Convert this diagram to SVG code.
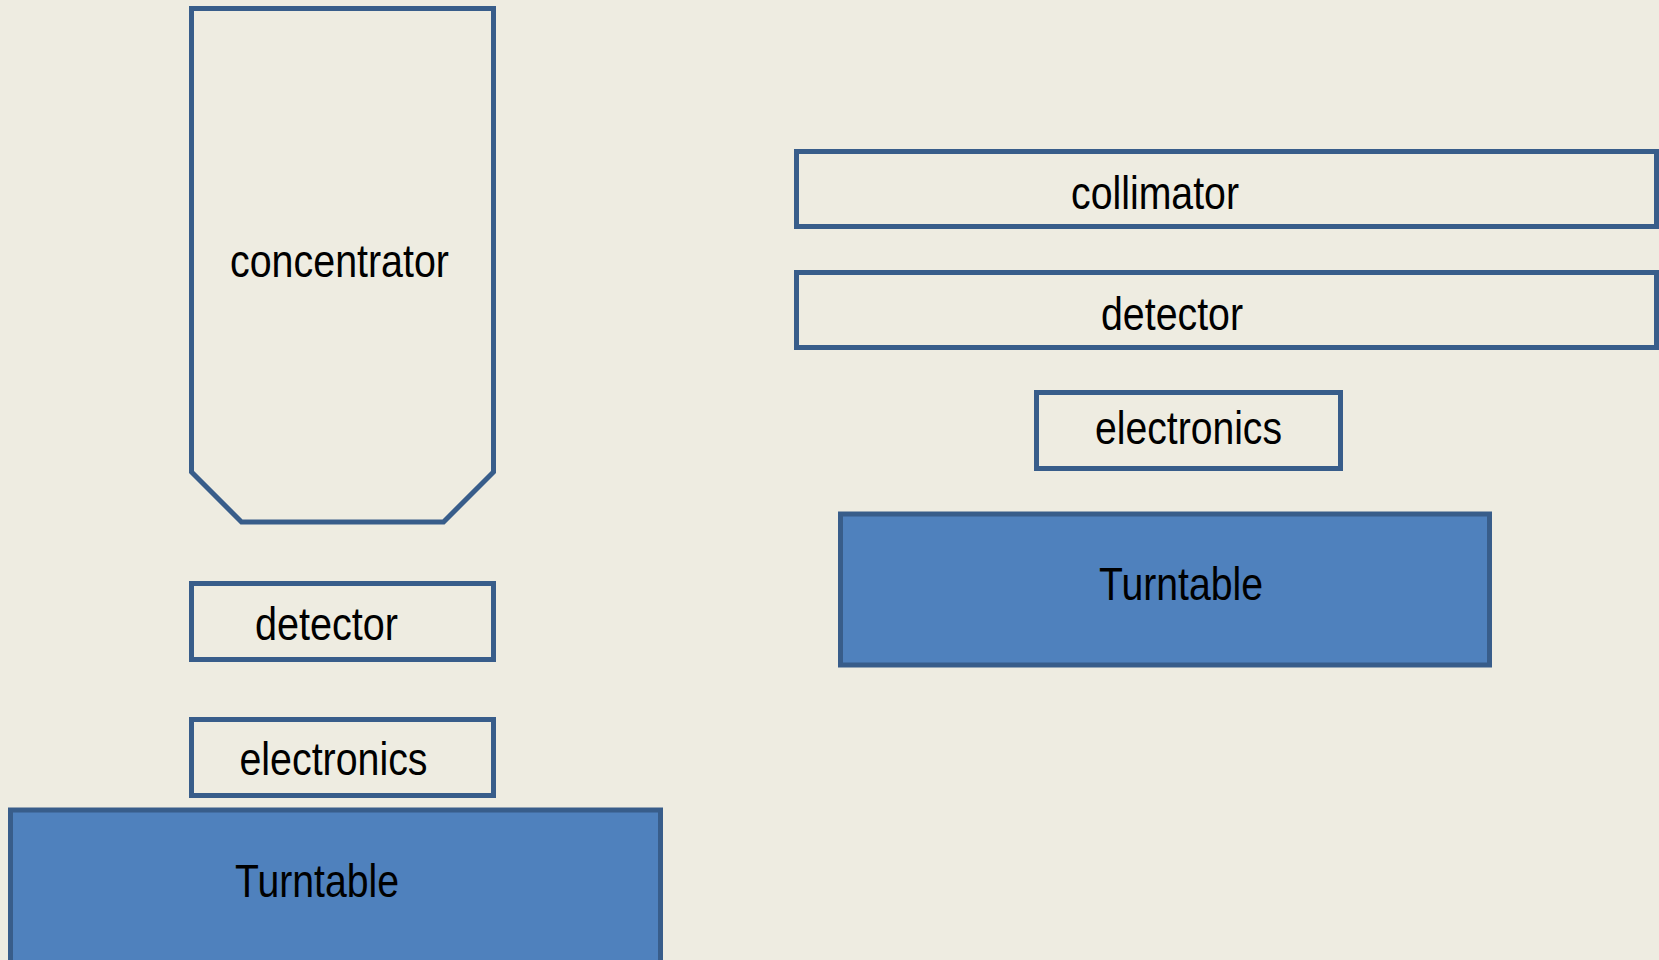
<svg xmlns="http://www.w3.org/2000/svg" width="1659" height="960" viewBox="0 0 1659 960">
  <style>
    .box { fill: #EEECE1; stroke: #385D8A; stroke-width: 5; stroke-linejoin: miter; }
    .solid { fill: #4F81BD; stroke: #385D8A; stroke-width: 5; }
    .lbl { font-family: "Liberation Sans", Arial, sans-serif; font-size: 46px; fill: #000; }
  </style>
  <rect x="0" y="0" width="1659" height="960" fill="#EEECE1"/>
  <g id="concentrator">
    <polygon class="box" points="191.5,8.5 493.5,8.5 493.5,472 443.5,522 241.5,522 191.5,472"/>
    <text class="lbl" x="230" y="277" textLength="219" lengthAdjust="spacingAndGlyphs">concentrator</text>
  </g>
  <g id="detector-left">
    <rect class="box" x="191.5" y="583.5" width="302" height="76"/>
    <text class="lbl" x="255" y="639.5" textLength="143" lengthAdjust="spacingAndGlyphs">detector</text>
  </g>
  <g id="electronics-left">
    <rect class="box" x="191.5" y="719.5" width="302" height="76"/>
    <text class="lbl" x="239.5" y="775" textLength="188" lengthAdjust="spacingAndGlyphs">electronics</text>
  </g>
  <g id="turntable-left">
    <rect class="solid" x="10.5" y="810" width="650" height="165"/>
    <text class="lbl" x="235" y="896.5" textLength="164" lengthAdjust="spacingAndGlyphs">Turntable</text>
  </g>
  <g id="collimator">
    <rect class="box" x="796.5" y="151.5" width="860" height="75"/>
    <text class="lbl" x="1071" y="208.5" textLength="168" lengthAdjust="spacingAndGlyphs">collimator</text>
  </g>
  <g id="detector-right">
    <rect class="box" x="796.5" y="272.5" width="860" height="75"/>
    <text class="lbl" x="1101" y="329.5" textLength="142" lengthAdjust="spacingAndGlyphs">detector</text>
  </g>
  <g id="electronics-right">
    <rect class="box" x="1036.5" y="392.5" width="304" height="76"/>
    <text class="lbl" x="1095" y="444" textLength="187" lengthAdjust="spacingAndGlyphs">electronics</text>
  </g>
  <g id="turntable-right">
    <rect class="solid" x="840.5" y="514" width="649" height="151"/>
    <text class="lbl" x="1099" y="600" textLength="164" lengthAdjust="spacingAndGlyphs">Turntable</text>
  </g>
  <g id="connectors"></g>
</svg>
